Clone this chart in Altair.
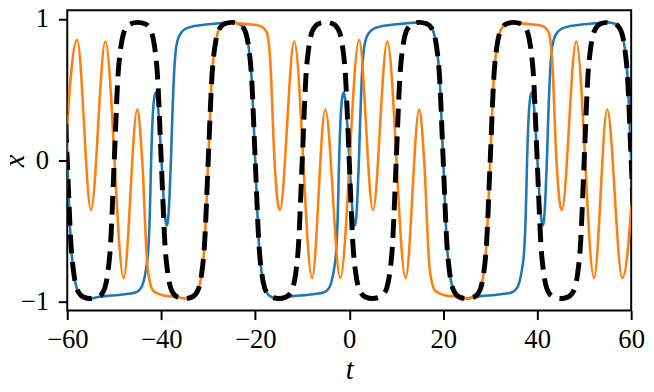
import altair as alt
import pandas as pd

# ---------------- data ----------------
x_ticks = [-60, -40, -20, 0, 20, 40, 60]
y_ticks = [-1.0, 0.0, 1.0]

# black dashed curve (knots)
black_t = [
    -65.0,
    -63.5, -62.6, -62.0, -61.4, -60.8, -60.0, -59.2, -58.6, -58.0, -57.4, -56.5,
    -55.0,
    -53.5, -52.6, -52.0, -51.4, -50.8, -50.0, -49.2, -48.6, -48.0, -47.4, -46.5,
    -45.0,
    -43.5, -42.6, -42.0, -41.4, -40.8, -40.0, -39.2, -38.6, -38.0, -37.4, -36.5,
    -35.0,
    -33.5, -32.6, -32.0, -31.4, -30.8, -30.0, -29.2, -28.6, -28.0, -27.4, -26.5,
    -25.0,
    -23.5, -22.6, -22.0, -21.4, -20.8, -20.0, -19.2, -18.6, -18.0, -17.4, -16.5,
    -15.0,
    -13.5, -12.6, -12.0, -11.4, -10.8, -10.0, -9.2, -8.6, -8.0, -7.4, -6.5,
    -5.0,
    -3.5, -2.6, -2.0, -1.4, -0.8, 0.0, 0.8, 1.4, 2.0, 2.6, 3.5,
    5.0,
    6.5, 7.4, 8.0, 8.6, 9.2, 10.0, 10.8, 11.4, 12.0, 12.6, 13.5,
    15.0,
    16.5, 17.4, 18.0, 18.6, 19.2, 20.0, 20.8, 21.4, 22.0, 22.6, 23.5,
    25.0,
    26.5, 27.4, 28.0, 28.6, 29.2, 30.0, 30.8, 31.4, 32.0, 32.6, 33.5,
    35.0,
    36.5, 37.4, 38.0, 38.6, 39.2, 40.0, 40.8, 41.4, 42.0, 42.6, 43.5,
    45.0,
    46.5, 47.4, 48.0, 48.6, 49.2, 50.0, 50.8, 51.4, 52.0, 52.6, 53.5,
    55.0,
    56.5, 57.4, 58.0, 58.6, 59.2, 60.0, 60.8, 61.4, 62.0, 62.6, 63.5,
    65.0,
]
black_x = [
    0.975,
    0.965, 0.94, 0.9, 0.8, 0.6, 0.0, -0.6, -0.8, -0.9, -0.94, -0.965,
    -0.975,
    -0.965, -0.94, -0.9, -0.8, -0.6, 0.0, 0.6, 0.8, 0.9, 0.94, 0.965,
    0.975,
    0.965, 0.94, 0.9, 0.8, 0.6, 0.0, -0.6, -0.8, -0.9, -0.94, -0.965,
    -0.975,
    -0.965, -0.94, -0.9, -0.8, -0.6, 0.0, 0.6, 0.8, 0.9, 0.94, 0.965,
    0.975,
    0.965, 0.94, 0.9, 0.8, 0.6, 0.0, -0.6, -0.8, -0.9, -0.94, -0.965,
    -0.975,
    -0.965, -0.94, -0.9, -0.8, -0.6, 0.0, 0.6, 0.8, 0.9, 0.94, 0.965,
    0.975,
    0.965, 0.94, 0.9, 0.8, 0.6, 0.0, -0.6, -0.8, -0.9, -0.94, -0.965,
    -0.975,
    -0.965, -0.94, -0.9, -0.8, -0.6, 0.0, 0.6, 0.8, 0.9, 0.94, 0.965,
    0.975,
    0.965, 0.94, 0.9, 0.8, 0.6, 0.0, -0.6, -0.8, -0.9, -0.94, -0.965,
    -0.975,
    -0.965, -0.94, -0.9, -0.8, -0.6, 0.0, 0.6, 0.8, 0.9, 0.94, 0.965,
    0.975,
    0.965, 0.94, 0.9, 0.8, 0.6, 0.0, -0.6, -0.8, -0.9, -0.94, -0.965,
    -0.975,
    -0.965, -0.94, -0.9, -0.8, -0.6, 0.0, 0.6, 0.8, 0.9, 0.94, 0.965,
    0.975,
    0.965, 0.94, 0.9, 0.8, 0.6, 0.0, -0.6, -0.8, -0.9, -0.94, -0.965,
    -0.975,
]

# blue curve
blue_t = [
    -65.0,
    -63.5, -62.6, -62.0, -61.4, -60.8, -60.0, -59.2, -58.6, -58.0, -57.4, -56.5,
    -55.0, -53.5,
    -52.0, -49.0, -47.0, -45.5, -44.5, -43.8, -43.2, -42.8, -42.45, -42.15,
    -41.8, -41.45, -41.15, -40.8, -40.4, -39.95, -39.4, -39.0, -38.77, -38.5,
    -38.2, -37.94, -37.6, -37.23, -36.9, -36.5, -35.8, -34.8, -33.5, -31.7,
    -30.0, -28.0,
    -25.0,
    -23.5, -22.6, -22.0, -21.4, -20.8, -20.0, -19.2, -18.6, -18.0, -17.4, -16.5,
    -15.0, -13.5,
    -12.0, -9.0, -7.0, -5.5, -4.5, -3.8, -3.2, -2.8, -2.45, -2.15,
    -1.8, -1.45, -1.15, -0.8, -0.4, 0.05, 0.6, 1.0, 1.23, 1.5,
    1.8, 2.06, 2.4, 2.77, 3.1, 3.5, 4.2, 5.2, 6.5, 8.3,
    10.0, 12.0,
    15.0,
    16.5, 17.4, 18.0, 18.6, 19.2, 20.0, 20.8, 21.4, 22.0, 22.6, 23.5,
    25.0, 26.5,
    28.0, 31.0, 33.0, 34.5, 35.5, 36.2, 36.8, 37.2, 37.55, 37.85,
    38.2, 38.55, 38.85, 39.2, 39.6, 40.05, 40.6, 41.0, 41.23, 41.5,
    41.8, 42.06, 42.4, 42.77, 43.1, 43.5, 44.2, 45.2, 46.5, 48.3,
    50.0, 52.0,
    55.0,
    56.5, 57.4, 58.0, 58.6, 59.2, 60.0, 60.8, 61.4, 62.0, 62.6, 63.5,
    65.0,
]
blue_x = [
    0.975,
    0.965, 0.94, 0.9, 0.8, 0.6, 0.0, -0.6, -0.8, -0.9, -0.94, -0.965,
    -0.975, -0.965,
    -0.958, -0.95, -0.942, -0.932, -0.91, -0.86, -0.76, -0.65, -0.4, 0.0,
    0.32, 0.45, 0.48, 0.42, 0.25, 0.0, -0.32, -0.44, -0.46, -0.4,
    -0.22, 0.0, 0.35, 0.64, 0.78, 0.85, 0.9, 0.93, 0.945, 0.955,
    0.962, 0.968,
    0.975,
    0.965, 0.94, 0.9, 0.8, 0.6, 0.0, -0.6, -0.8, -0.9, -0.94, -0.965,
    -0.975, -0.965,
    -0.958, -0.95, -0.942, -0.932, -0.91, -0.86, -0.76, -0.65, -0.4, 0.0,
    0.32, 0.45, 0.48, 0.42, 0.25, 0.0, -0.32, -0.44, -0.46, -0.4,
    -0.22, 0.0, 0.35, 0.64, 0.78, 0.85, 0.9, 0.93, 0.945, 0.955,
    0.962, 0.968,
    0.975,
    0.965, 0.94, 0.9, 0.8, 0.6, 0.0, -0.6, -0.8, -0.9, -0.94, -0.965,
    -0.975, -0.965,
    -0.958, -0.95, -0.942, -0.932, -0.91, -0.86, -0.76, -0.65, -0.4, 0.0,
    0.32, 0.45, 0.48, 0.42, 0.25, 0.0, -0.32, -0.44, -0.46, -0.4,
    -0.22, 0.0, 0.35, 0.64, 0.78, 0.85, 0.9, 0.93, 0.945, 0.955,
    0.962, 0.968,
    0.975,
    0.965, 0.94, 0.9, 0.8, 0.6, 0.0, -0.6, -0.8, -0.9, -0.94, -0.965,
    -0.975,
]

# orange curve
orange_t = [
    -61.9, -57.9, -54.95, -51.9, -48.0, -45.1,
    -44.05, -42.9, -41.7, -39.9, -38.5,
    -36.5, -35.0,
    -33.5, -32.6, -32.0, -31.4, -30.8, -30.0, -29.2, -28.6, -28.0, -27.4, -26.5,
    -25.0, -23.5,
    -21.5, -19.5, -18.4, -17.5, -16.8, -15.9, -15.2, -14.75,
    -11.7, -7.9, -5.1, -1.9, 2.1, 5.05, 8.1, 12.0, 14.9,
    15.95, 17.1, 18.3, 20.1, 21.5,
    23.5, 25.0,
    26.5, 27.4, 28.0, 28.6, 29.2, 30.0, 30.8, 31.4, 32.0, 32.6, 33.5,
    35.0, 36.5,
    38.5, 40.5, 41.6, 42.5, 43.2, 44.1, 44.8, 45.25,
    48.3, 52.1, 54.9, 58.1, 62.1,
]
orange_x = [
    -0.83, 0.85, -0.35, 0.84, -0.83, 0.36,
    0.0, -0.76, -0.92, -0.95, -0.958,
    -0.965, -0.975,
    -0.965, -0.94, -0.9, -0.8, -0.6, 0.0, 0.6, 0.8, 0.9, 0.94, 0.965,
    0.975, 0.968,
    0.962, 0.955, 0.94, 0.9, 0.7, 0.0, -0.3, -0.35,
    0.84, -0.83, 0.36, -0.83, 0.85, -0.35, 0.84, -0.83, 0.36,
    0.0, -0.76, -0.92, -0.95, -0.958,
    -0.965, -0.975,
    -0.965, -0.94, -0.9, -0.8, -0.6, 0.0, 0.6, 0.8, 0.9, 0.94, 0.965,
    0.975, 0.968,
    0.962, 0.955, 0.94, 0.9, 0.7, 0.0, -0.3, -0.35,
    0.84, -0.83, 0.36, -0.83, 0.85,
]

# ---------------- chart ----------------
FONT = "Liberation Serif"

def frame(t, x):
    return pd.DataFrame({"t": t, "x": x})

x_enc = alt.X(
    "t:Q",
    scale=alt.Scale(domain=[-60, 60], nice=False, zero=False),
    axis=alt.Axis(
        values=x_ticks, format="d", title="t", labelFlush=False,
        labelOverlap=False, labelPadding=7, titleX=285.5, titleY=69,
        titleBaseline="alphabetic", titleAlign="center",
    ),
)
y_enc = alt.Y(
    "x:Q",
    scale=alt.Scale(domain=[-1.06, 1.06], nice=False, zero=False),
    axis=alt.Axis(
        values=y_ticks, format=".0f", title="x", labelFlush=False,
        labelOverlap=False, labelPadding=10, titleX=-44, titleY=152,
        titleAngle=-90, titleBaseline="alphabetic", titleAlign="center",
    ),
)

blue = alt.Chart(frame(blue_t, blue_x)).mark_line(
    color="#1f77b4", strokeWidth=2.6, interpolate="monotone", clip=True
).encode(x=x_enc, y=y_enc)

orange = alt.Chart(frame(orange_t, orange_x)).mark_line(
    color="#ff7f0e", strokeWidth=2.6, interpolate="monotone", clip=True
).encode(x=x_enc, y=y_enc)

black = alt.Chart(frame(black_t, black_x)).mark_line(
    color="black", strokeWidth=5, strokeDash=[19, 9], interpolate="monotone",
    clip=True
).encode(x=x_enc, y=y_enc)

chart = (
    alt.layer(blue, orange, black)
    .properties(
        width=571, height=304,
        autosize=alt.AutoSizeParams(type="none"),
        padding={"left": 60, "top": 0, "right": 15, "bottom": 72},
        background="white",
    )
    .configure_view(stroke="black", strokeWidth=2)
    .configure_axis(
        domain=False, grid=False, tickColor="black", tickWidth=2, tickSize=9,
        labelFont=FONT, labelFontSize=27, labelColor="black",
        titleFont=FONT, titleFontSize=29, titleFontStyle="italic",
        titleFontWeight="normal", titleColor="black",
    )
)

chart.save("out.html", embed_options={"renderer": "svg", "actions": False})
